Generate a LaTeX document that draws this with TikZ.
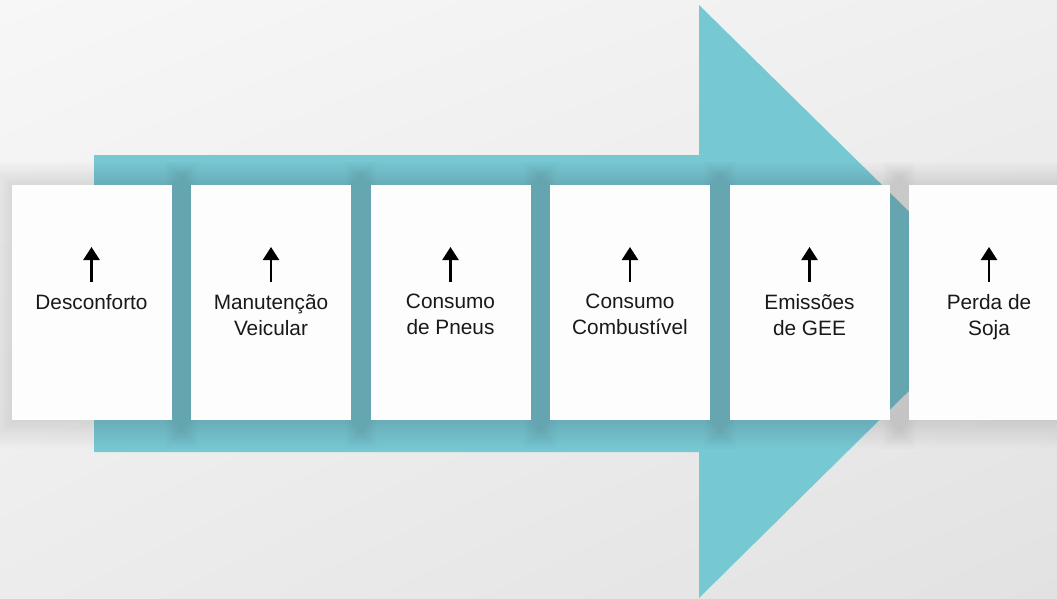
\documentclass[tikz,border=0pt]{standalone}
\usepackage{fontspec}
\setmainfont{Liberation Sans}
\usetikzlibrary{arrows.meta,shadings}
\definecolor{teal1}{RGB}{118,200,211}
\definecolor{bgA}{RGB}{247,247,247}
\definecolor{bgB}{RGB}{239,239,239}
\definecolor{bgC}{RGB}{236,236,236}
\definecolor{bgD}{RGB}{226,226,226}
\definecolor{cardw}{RGB}{253,253,253}
\tikzset{
  card/.style={fill=cardw, draw=none, minimum width=160pt, minimum height=235pt, inner sep=0pt},
  shadowlayer/.style={fill=black, fill opacity=0.0065, draw=none},
  lbl/.style={anchor=north, align=center, inner sep=0pt, font=\fontsize{20.8}{26}\selectfont, text=black!90},
  uparrow/.style={-{Triangle[width=16pt,length=13pt]}, line width=2.4pt, black}
}
\begin{document}
\begin{tikzpicture}[x=1pt,y=-1pt]
\useasboundingbox (0,0) rectangle (1057,599);
\clip (0,0) rectangle (1057,599);
\shade[upper left=bgA, upper right=bgB, lower left=bgC, lower right=bgD] (0,0) rectangle (1057,599);
% big arrow
\fill[teal1] (94,155) -- (699,155) -- (699,5) -- (1000,301) -- (699,598) -- (699,452) -- (94,452) -- cycle;
% soft shadows
\foreach \x in {91.5, 271, 450.5, 630, 809.5, 989} {
  \foreach \k in {0,2,...,26} {
    \fill[shadowlayer] (\x-80-\k,185-\k*0.9) rectangle (\x+80+\k,420+\k*1.1);
  }
}
% cards
\foreach \i/\x in {1/91.5, 2/271, 3/450.5, 4/630, 5/809.5, 6/989} {
  \node[card] (c\i) at (\x,302.5) {};
  \coordinate (b\i) at (\x,282);
  \coordinate (t\i) at (\x,247);
  \draw[uparrow] (b\i) -- (t\i);
}
\node[lbl] (l1) at (91.5,294) {Desconforto};
\node[lbl] (l2) at (271,294) {Manutenção\\Veicular};
\node[lbl] (l3) at (450.5,294) {Consumo\\de Pneus};
\node[lbl] (l4) at (630,294) {Consumo\\Combustível};
\node[lbl] (l5) at (809.5,294) {Emissões\\de GEE};
\node[lbl] (l6) at (989,294) {Perda de\\Soja};
\end{tikzpicture}
\end{document}
